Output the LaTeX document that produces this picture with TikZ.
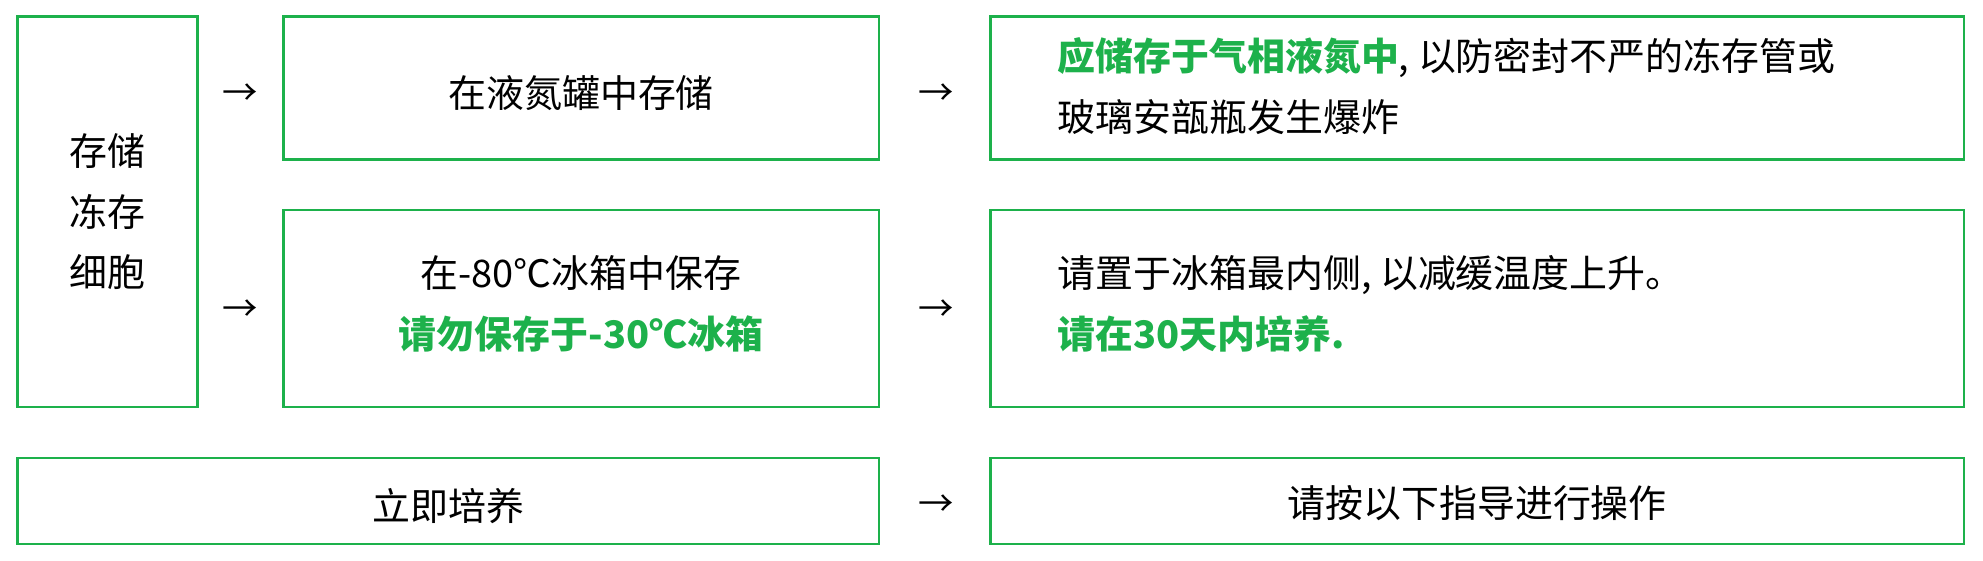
\documentclass[tikz,border=0pt]{standalone}
\usepackage{fontspec}
\setmainfont{Noto Sans CJK SC}
\definecolor{gr}{HTML}{1DB14B}
\begin{document}
\begin{tikzpicture}[x=1pt,y=-1pt,
  bx/.style={draw=gr,line width=2pt},
  tx/.style={font=\fontsize{30}{48}\selectfont,inner sep=0pt},
  ar/.style={font=\fontsize{28}{30}\selectfont,inner sep=0pt}]
\useasboundingbox (0,0) rectangle (1568,443);
\draw[bx] (14,13) rectangle (156,322) node[midway,tx,align=center,text width=70pt] (L) {存储\\冻存\\细胞};
\draw[bx] (224,13) rectangle (695,126);
\node[tx] (A) at (459.5,74) {在液氮罐中存储};
\draw[bx] (783,13) rectangle (1553,126);
\node[tx,anchor=west,align=left] (B) at (836,68) {\textcolor{gr}{\bfseries 应储存于气相液氮中}, 以防密封不严的冻存管或\\玻璃安瓿瓶发生爆炸};
\draw[bx] (224,166) rectangle (695,322);
\node[tx,align=center] (C) at (459.5,240) {在-80℃冰箱中保存\\\textcolor{gr}{\bfseries 请勿保存于-30℃冰箱}};
\draw[bx] (783,166) rectangle (1553,322);
\node[tx,anchor=west,align=left] (D) at (836,240) {请置于冰箱最内侧, 以减缓温度上升。\\\textcolor{gr}{\bfseries 请在30天内培养.}};
\draw[bx] (14,362) rectangle (695,430);
\node[tx] (E) at (354.5,400) {立即培养};
\draw[bx] (783,362) rectangle (1553,430);
\node[tx] (F) at (1168,398) {请按以下指导进行操作};
\node[ar] (r1) at (190,75) {→};
\node[ar] (r2) at (190,246) {→};
\node[ar] (r3) at (740,75) {→};
\node[ar] (r4) at (740,246) {→};
\node[ar] (r5) at (740,400) {→};
\end{tikzpicture}
\end{document}
